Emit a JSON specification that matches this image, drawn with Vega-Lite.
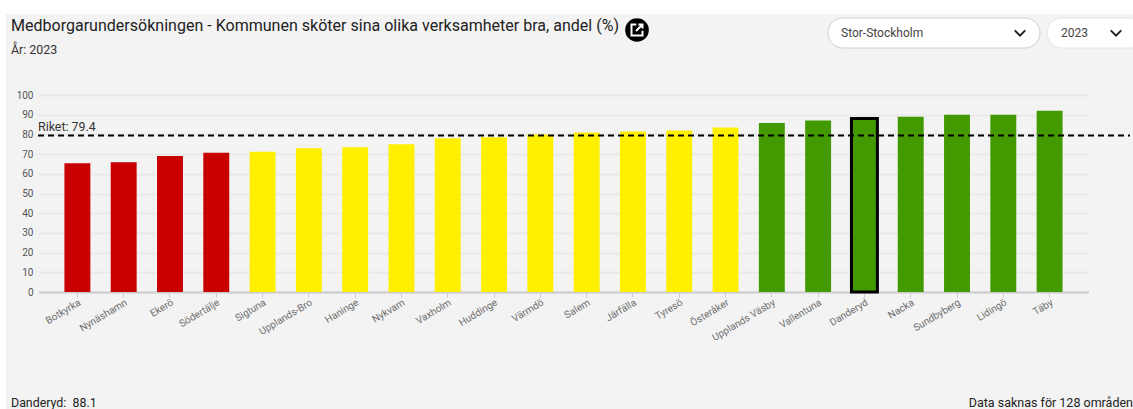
{
"$schema":"https://vega.github.io/schema/vega-lite/v6.json",
"width":1127,"height":395,
"autosize":{"type":"none"},
"padding":{"left":6,"top":14,"right":0,"bottom":0},
"background":"#ffffff",
"view":{"fill":"#f3f3f3","stroke":null},
"title":{"text":"Medborgarundersökningen - Kommunen sköter sina olika verksamheter bra, andel (%)","subtitle":"År: 2023","anchor":"start","frame":"group","dx":5,"offset":-42,"font":"Roboto","fontSize":16.05,"fontWeight":"normal","color":"#222222","subtitleFont":"Roboto","subtitleFontSize":12.4,"subtitleColor":"#333333","subtitlePadding":10},
"resolve":{"scale":{"x":"independent"}},
"config":{"font":"Roboto"},
"layer":[
{"data":{"values":[
{"kommun":"Botkyrka","varde":65.3,"grupp":"låg","vald":"nej"},
{"kommun":"Nynäshamn","varde":65.8,"grupp":"låg","vald":"nej"},
{"kommun":"Ekerö","varde":69,"grupp":"låg","vald":"nej"},
{"kommun":"Södertälje","varde":70.7,"grupp":"låg","vald":"nej"},
{"kommun":"Sigtuna","varde":71.2,"grupp":"mellan","vald":"nej"},
{"kommun":"Upplands-Bro","varde":73,"grupp":"mellan","vald":"nej"},
{"kommun":"Haninge","varde":73.5,"grupp":"mellan","vald":"nej"},
{"kommun":"Nykvarn","varde":75,"grupp":"mellan","vald":"nej"},
{"kommun":"Vaxholm","varde":78,"grupp":"mellan","vald":"nej"},
{"kommun":"Huddinge","varde":78.5,"grupp":"mellan","vald":"nej"},
{"kommun":"Värmdö","varde":80,"grupp":"mellan","vald":"nej"},
{"kommun":"Salem","varde":81,"grupp":"mellan","vald":"nej"},
{"kommun":"Järfälla","varde":81.5,"grupp":"mellan","vald":"nej"},
{"kommun":"Tyresö","varde":82,"grupp":"mellan","vald":"nej"},
{"kommun":"Österåker","varde":83.5,"grupp":"mellan","vald":"nej"},
{"kommun":"Upplands Väsby","varde":85.8,"grupp":"hög","vald":"nej"},
{"kommun":"Vallentuna","varde":87,"grupp":"hög","vald":"nej"},
{"kommun":"Danderyd","varde":88.1,"grupp":"hög","vald":"ja"},
{"kommun":"Nacka","varde":89,"grupp":"hög","vald":"nej"},
{"kommun":"Sundbyberg","varde":90,"grupp":"hög","vald":"nej"},
{"kommun":"Lidingö","varde":90,"grupp":"hög","vald":"nej"},
{"kommun":"Täby","varde":92,"grupp":"hög","vald":"nej"}
]},
"mark":{"type":"bar","strokeWidth":3},
"encoding":{
"x":{"field":"kommun","type":"nominal","sort":null,"title":null,
"scale":{"range":[32.5,1082.5],"paddingInner":0.44,"paddingOuter":0.56},
"axis":{"offset":-117,"labelAngle":-31,"labelAlign":"right","labelBaseline":"top","labelFontSize":10,"labelColor":"#6e6e6e","labelFont":"Roboto","labelPadding":0,"tickColor":"#cccccc","tickSize":5,"domainColor":"#cccccc","domainWidth":2,"labelOverlap":false}},
"y":{"field":"varde","type":"quantitative","title":null,
"scale":{"domain":[0,100],"range":[278,81],"nice":false},
"axis":{"offset":-32,"values":[0,10,20,30,40,50,60,70,80,90,100],"ticks":false,"domain":false,"labelOverlap":false,"labelFontSize":10,"labelColor":"#555555","labelFont":"Roboto","labelPadding":5,"gridColor":"#e9e9e9","gridWidth":2}},
"color":{"field":"grupp","type":"nominal","legend":null,"scale":{"domain":["låg","mellan","hög"],"range":["#c80000","#fff000","#439900"]}},
"stroke":{"field":"vald","type":"nominal","legend":null,"scale":{"domain":["nej","ja"],"range":["transparent","#000000"]}}
}},
{"data":{"values":[{"namn":"Riket","varde":79.4}]},
"mark":{"type":"rule","color":"#000000","strokeWidth":2,"strokeDash":[6,4]},
"encoding":{
"x":{"datum":0,"type":"quantitative","scale":{"domain":[0,1],"range":[32,1082]},"axis":null},
"x2":{"datum":1.04},
"y":{"field":"varde","type":"quantitative","title":null,
"axis":{"offset":-32,"values":[0,10,20,30,40,50,60,70,80,90,100],"ticks":false,"domain":false,"labelOverlap":false,"labelFontSize":10,"labelColor":"#555555","labelFont":"Roboto","labelPadding":5,"gridColor":"#e9e9e9","gridWidth":2}}}},
{"data":{"values":[{"namn":"Riket: 79.4","varde":79.4}]},
"mark":{"type":"text","align":"left","baseline":"bottom","dy":-2,"fontSize":12.4,"color":"#333333","font":"Roboto"},
"encoding":{
"x":{"datum":0,"type":"quantitative","scale":{"domain":[0,1],"range":[32,1082]},"axis":null},
"y":{"field":"varde","type":"quantitative","title":null,
"axis":{"offset":-32,"values":[0,10,20,30,40,50,60,70,80,90,100],"ticks":false,"domain":false,"labelOverlap":false,"labelFontSize":10,"labelColor":"#555555","labelFont":"Roboto","labelPadding":5,"gridColor":"#e9e9e9","gridWidth":2}},
"text":{"field":"namn"}}},
{"data":{"values":[{"t":"Danderyd:\u00a0 88.1"}]},
"mark":{"type":"text","align":"left","baseline":"middle","fontSize":12.4,"color":"#222222","font":"Roboto"},
"encoding":{"x":{"value":5},"y":{"value":389},"text":{"field":"t"}}},
{"data":{"values":[{"t":"Data saknas för 128 områden"}]},
"mark":{"type":"text","align":"right","baseline":"middle","fontSize":12.5,"color":"#222222","font":"Roboto"},
"encoding":{"x":{"value":1127},"y":{"value":389},"text":{"field":"t"}}},
{"data":{"values":[{"t":"Stor-Stockholm"}]},
"mark":{"type":"rect","fill":"#ffffff","stroke":"#d0d0d0","strokeWidth":1,"cornerRadius":15},
"encoding":{"x":{"value":822},"x2":{"value":1034},"y":{"value":4},"y2":{"value":34}}},
{"data":{"values":[{"t":"2023"}]},
"mark":{"type":"rect","fill":"#ffffff","stroke":"#e4e4e4","strokeWidth":1,"cornerRadius":15},
"encoding":{"x":{"value":1041},"x2":{"value":1140},"y":{"value":4},"y2":{"value":34}}},
{"data":{"values":[{"t":"Stor-Stockholm"}]},
"mark":{"type":"text","align":"left","baseline":"middle","fontSize":12,"color":"#444444","font":"Roboto"},
"encoding":{"x":{"value":835},"y":{"value":19},"text":{"field":"t"}}},
{"data":{"values":[{"t":"2023"}]},
"mark":{"type":"text","align":"left","baseline":"middle","fontSize":12,"color":"#444444","font":"Roboto"},
"encoding":{"x":{"value":1055},"y":{"value":19},"text":{"field":"t"}}},
{"data":{"values":[{"t":"v"}]},
"mark":{"type":"point","shape":"M-1,-0.5L0,0.5L1,-0.5","size":110,"filled":false,"stroke":"#222222","strokeWidth":2,"opacity":1},
"encoding":{"x":{"value":1014},"y":{"value":19}}},
{"data":{"values":[{"t":"v"}]},
"mark":{"type":"point","shape":"M-1,-0.5L0,0.5L1,-0.5","size":110,"filled":false,"stroke":"#222222","strokeWidth":2,"opacity":1},
"encoding":{"x":{"value":1110},"y":{"value":19}}},
{"data":{"values":[{"t":"dela"}]},
"mark":{"type":"point","shape":"circle","size":560,"filled":true,"fill":"#000000","opacity":1},
"encoding":{"x":{"value":631},"y":{"value":16}}},
{"data":{"values":[{"t":"dela"}]},
"mark":{"type":"point","shape":"M-0.1,-0.8L-0.8,-0.8L-0.8,0.8L0.8,0.8L0.8,0.1M0.2,-0.8L0.8,-0.8L0.8,-0.2M0.8,-0.8L-0.15,0.15","size":190,"filled":false,"stroke":"#ffffff","strokeWidth":2,"opacity":1},
"encoding":{"x":{"value":631},"y":{"value":16}}}
]
}
